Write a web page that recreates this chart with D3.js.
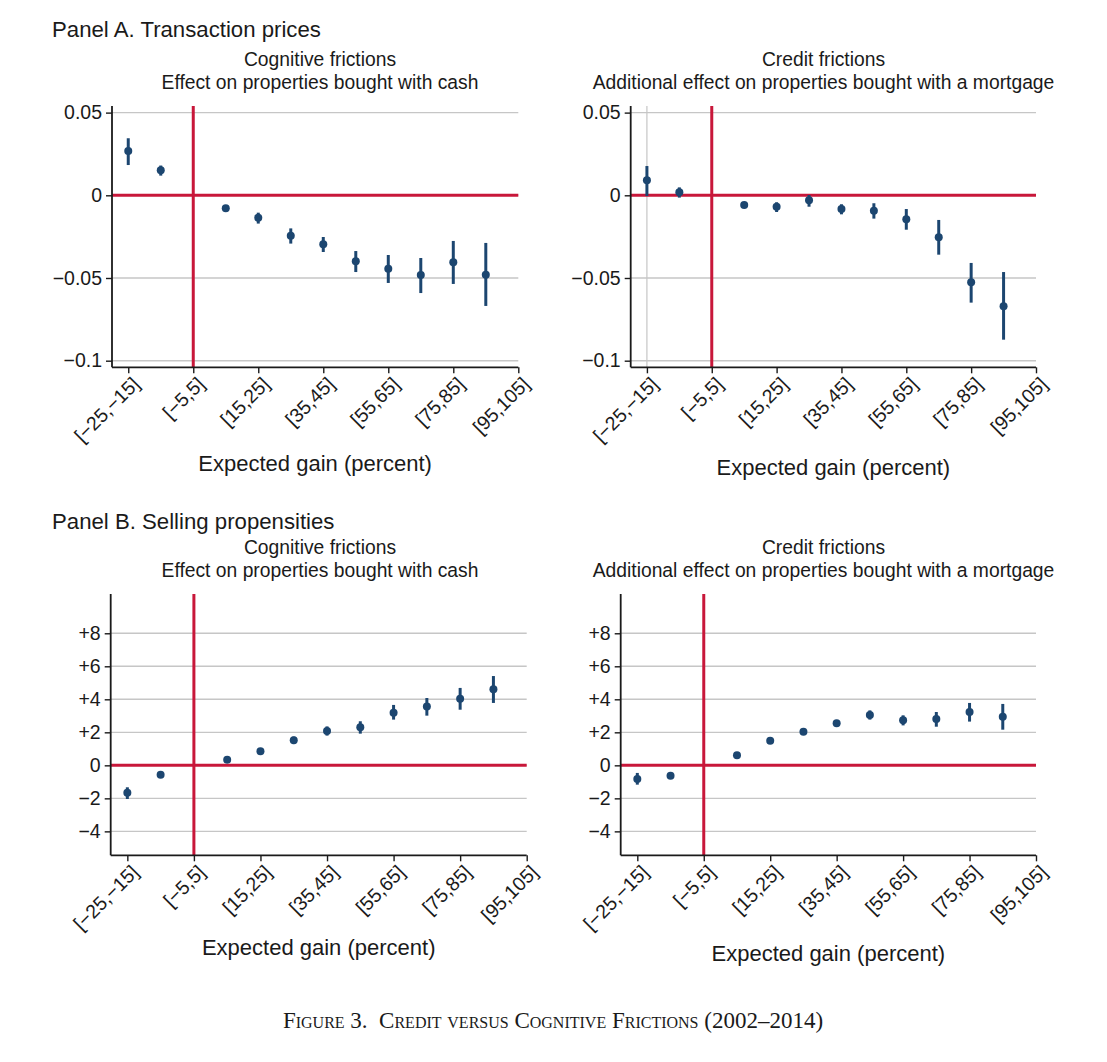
<!DOCTYPE html>
<html>
<head>
<meta charset="utf-8">
<script src="https://cdn.jsdelivr.net/npm/d3@7"></script>
<style>
  body { margin: 0; background: #fff; }
  svg text { font-family: "Liberation Sans", Arial, Helvetica, sans-serif; fill: #1a1a1a; }
</style>
</head>
<body>
<svg id="chart" width="1107" height="1062"></svg>
<script>
// ---------------- DATA ----------------
const xTickValues = [-20, 0, 20, 40, 60, 80, 100];
const xTickLabels = ["[\u221225,\u221215]", "[\u22125,5]", "[15,25]", "[35,45]", "[55,65]", "[75,85]", "[95,105]"];
const bins = [-20, -10, 10, 20, 30, 40, 50, 60, 70, 80, 90];

const priceYTicks = [0.05, 0, -0.05, -0.1];
const priceYLabels = ["0.05", "0", "\u22120.05", "\u22120.1"];
const sellYTicks = [8, 6, 4, 2, 0, -2, -4];
const sellYLabels = ["+8", "+6", "+4", "+2", "0", "\u22122", "\u22124"];

// Panel A, cognitive frictions (cash)
const priceCashEst = [0.0268, 0.0151, -0.0079, -0.0135, -0.0244, -0.0296, -0.0399, -0.0444, -0.0482, -0.0405, -0.0480];
const priceCashLo  = [0.0183, 0.0119, -0.0099, -0.0171, -0.0292, -0.0343, -0.0464, -0.0530, -0.0591, -0.0536, -0.0669];
const priceCashHi  = [0.0345, 0.0180, -0.0062, -0.0105, -0.0200, -0.0252, -0.0337, -0.0361, -0.0379, -0.0276, -0.0288];

// Panel A, credit frictions (mortgage)
const priceMortEst = [0.0091, 0.0018, -0.0058, -0.0069, -0.0030, -0.0083, -0.0093, -0.0145, -0.0254, -0.0526, -0.0671];
const priceMortLo  = [-0.0004, -0.0014, -0.0073, -0.0101, -0.0069, -0.0115, -0.0141, -0.0208, -0.0359, -0.0649, -0.0873];
const priceMortHi  = [0.0177, 0.0048, -0.0044, -0.0042, 0.0002, -0.0054, -0.0048, -0.0083, -0.0149, -0.0409, -0.0464];

// Panel B, cognitive frictions (cash)
const sellCashEst = [-1.66, -0.57, 0.34, 0.85, 1.52, 2.08, 2.30, 3.19, 3.56, 4.04, 4.61];
const sellCashLo  = [-2.04, -0.69, 0.18, 0.69, 1.29, 1.80, 1.92, 2.77, 3.01, 3.37, 3.78];
const sellCashHi  = [-1.33, -0.44, 0.46, 0.97, 1.74, 2.36, 2.67, 3.66, 4.08, 4.69, 5.41];

// Panel B, credit frictions (mortgage)
const sellMortEst = [-0.83, -0.63, 0.61, 1.49, 2.04, 2.55, 3.05, 2.73, 2.81, 3.23, 2.95];
const sellMortLo  = [-1.17, -0.77, 0.48, 1.37, 1.86, 2.34, 2.77, 2.42, 2.34, 2.65, 2.16];
const sellMortHi  = [-0.46, -0.48, 0.73, 1.62, 2.20, 2.75, 3.33, 3.03, 3.23, 3.78, 3.72];

// ---------------- STYLE ----------------
const BLUE = "#1c4670";
const RED = "#c8173a";
const GRID = "#c6c6c6";
const AXIS = "#1a1a1a";

const svg = d3.select("#chart");

function toRows(est, lo, hi) {
  return bins.map((b, i) => ({ x: b, y: est[i], lo: lo[i], hi: hi[i] }));
}

function drawPanel(cfg) {
  const x = d3.scaleLinear().domain([-25, 100]).range([cfg.left, cfg.right]);
  const y = d3.scaleLinear().domain(cfg.yDomain).range([cfg.bottom, cfg.top]);
  const g = svg.append("g");

  // horizontal gridlines
  g.selectAll("line.grid").data(cfg.yTicks).join("line")
    .attr("x1", cfg.left).attr("x2", cfg.right)
    .attr("y1", d => y(d)).attr("y2", d => y(d))
    .attr("stroke", GRID).attr("stroke-width", 1.4);

  if (cfg.vGrid) {
    g.append("line")
      .attr("x1", x(-20)).attr("x2", x(-20))
      .attr("y1", cfg.top).attr("y2", cfg.bottom)
      .attr("stroke", GRID).attr("stroke-width", 1.2);
  }

  // red reference lines
  g.append("line")
    .attr("x1", cfg.left).attr("x2", cfg.right)
    .attr("y1", y(0)).attr("y2", y(0))
    .attr("stroke", RED).attr("stroke-width", 3);
  g.append("line")
    .attr("x1", x(0)).attr("x2", x(0))
    .attr("y1", cfg.top).attr("y2", cfg.bottom)
    .attr("stroke", RED).attr("stroke-width", 3);

  // y axis
  const yAxis = d3.axisLeft(y).tickValues(cfg.yTicks)
    .tickFormat((d, i) => cfg.yLabels[i]).tickSize(6).tickPadding(4);
  const ya = g.append("g").attr("transform", `translate(${cfg.left},0)`).call(yAxis);
  ya.select(".domain").remove();
  ya.selectAll(".tick line").attr("stroke", AXIS).attr("stroke-width", 1.4);
  ya.selectAll(".tick text").style("font-size", "19.5px").attr("fill", AXIS)
    .attr("font-family", '"Liberation Sans", Arial, sans-serif');
  g.append("line")
    .attr("x1", cfg.left).attr("x2", cfg.left)
    .attr("y1", cfg.top).attr("y2", cfg.bottom)
    .attr("stroke", AXIS).attr("stroke-width", 1.8);

  // x axis
  const xAxis = d3.axisBottom(x).tickValues(xTickValues)
    .tickFormat((d, i) => xTickLabels[i]).tickSize(6);
  const xa = g.append("g").attr("transform", `translate(0,${cfg.bottom})`).call(xAxis);
  xa.select(".domain").remove();
  xa.selectAll(".tick line").attr("stroke", AXIS).attr("stroke-width", 1.4);
  xa.selectAll(".tick text")
    .style("font-size", "19.5px").attr("fill", AXIS)
    .attr("font-family", '"Liberation Sans", Arial, sans-serif')
    .attr("text-anchor", "end")
    .attr("dy", null)
    .attr("y", 0)
    .attr("transform", "translate(12,18) rotate(-45)");
  g.append("line")
    .attr("x1", cfg.left).attr("x2", cfg.right)
    .attr("y1", cfg.bottom).attr("y2", cfg.bottom)
    .attr("stroke", AXIS).attr("stroke-width", 1.8);

  // CI bars and points
  const rows = toRows(cfg.est, cfg.lo, cfg.hi);
  g.selectAll("line.ci").data(rows).join("line")
    .attr("x1", d => x(d.x)).attr("x2", d => x(d.x))
    .attr("y1", d => y(d.lo)).attr("y2", d => y(d.hi))
    .attr("stroke", BLUE).attr("stroke-width", 3);
  g.selectAll("circle.pt").data(rows).join("circle")
    .attr("cx", d => x(d.x)).attr("cy", d => y(d.y)).attr("r", 4)
    .attr("fill", BLUE);

  // titles
  svg.append("text").attr("x", cfg.titleX).attr("y", cfg.sub1Y)
    .attr("text-anchor", "middle").style("font-size", "19.3px").text(cfg.sub1);
  svg.append("text").attr("x", cfg.titleX).attr("y", cfg.sub1Y + 23)
    .attr("text-anchor", "middle").style("font-size", "19.3px").text(cfg.sub2);
  svg.append("text").attr("x", (cfg.left + cfg.right) / 2).attr("y", cfg.xTitleY)
    .attr("text-anchor", "middle").style("font-size", "22px").text("Expected gain (percent)");
}

const priceDomain = [-0.104, 0.054];
const sellDomain = [-5.45, 10.38];

svg.append("text").attr("x", 52).attr("y", 37).style("font-size", "22.2px").text("Panel A. Transaction prices");
svg.append("text").attr("x", 52).attr("y", 529).style("font-size", "22.2px").text("Panel B. Selling propensities");

drawPanel({ left: 112, right: 518.3, top: 106, bottom: 367.3, yDomain: priceDomain,
  yTicks: priceYTicks, yLabels: priceYLabels, est: priceCashEst, lo: priceCashLo, hi: priceCashHi,
  titleX: 320, sub1Y: 66, sub1: "Cognitive frictions", sub2: "Effect on properties bought with cash",
  xTitleY: 471, vGrid: false });
drawPanel({ left: 630.7, right: 1036, top: 106, bottom: 367.3, yDomain: priceDomain,
  yTicks: priceYTicks, yLabels: priceYLabels, est: priceMortEst, lo: priceMortLo, hi: priceMortHi,
  titleX: 823.5, sub1Y: 66, sub1: "Credit frictions", sub2: "Additional effect on properties bought with a mortgage",
  xTitleY: 475, vGrid: true });
drawPanel({ left: 110.7, right: 526.7, top: 594, bottom: 855.3, yDomain: sellDomain,
  yTicks: sellYTicks, yLabels: sellYLabels, est: sellCashEst, lo: sellCashLo, hi: sellCashHi,
  titleX: 320, sub1Y: 554, sub1: "Cognitive frictions", sub2: "Effect on properties bought with cash",
  xTitleY: 955, vGrid: false });
drawPanel({ left: 620.7, right: 1036, top: 594, bottom: 855.3, yDomain: sellDomain,
  yTicks: sellYTicks, yLabels: sellYLabels, est: sellMortEst, lo: sellMortLo, hi: sellMortHi,
  titleX: 823.5, sub1Y: 554, sub1: "Credit frictions", sub2: "Additional effect on properties bought with a mortgage",
  xTitleY: 961, vGrid: false });

svg.append("text").attr("x", 553).attr("y", 1028).attr("text-anchor", "middle")
  .style("font-family", '"Liberation Serif", "Times New Roman", serif')
  .style("font-variant", "small-caps").style("font-size", "23px")
  .text("Figure 3.\u2002Credit versus Cognitive Frictions (2002\u20132014)");
</script>
</body>
</html>
